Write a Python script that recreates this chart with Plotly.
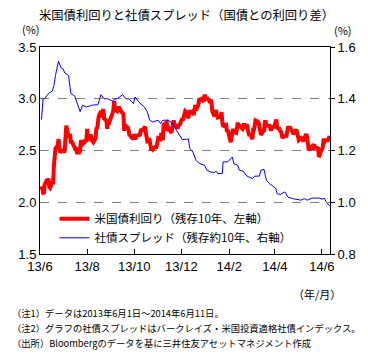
import plotly.graph_objects as go

# US 10y Treasury yield (%), left axis
ust_dates = [
"2013-06-03","2013-06-04","2013-06-05","2013-06-06","2013-06-07","2013-06-10","2013-06-11","2013-06-12","2013-06-13","2013-06-14",
"2013-06-17","2013-06-18","2013-06-19","2013-06-20","2013-06-21","2013-06-24","2013-06-25","2013-06-26","2013-06-27","2013-06-28",
"2013-07-01","2013-07-02","2013-07-03","2013-07-05","2013-07-08","2013-07-09","2013-07-10","2013-07-11","2013-07-12","2013-07-15",
"2013-07-16","2013-07-17","2013-07-18","2013-07-19","2013-07-22","2013-07-23","2013-07-24","2013-07-25","2013-07-26","2013-07-29",
"2013-07-30","2013-07-31","2013-08-01","2013-08-02","2013-08-05","2013-08-06","2013-08-07","2013-08-08","2013-08-09","2013-08-12",
"2013-08-13","2013-08-14","2013-08-15","2013-08-16","2013-08-19","2013-08-20","2013-08-21","2013-08-22","2013-08-23","2013-08-26",
"2013-08-27","2013-08-28","2013-08-29","2013-08-30","2013-09-03","2013-09-04","2013-09-05","2013-09-06","2013-09-09","2013-09-10",
"2013-09-11","2013-09-12","2013-09-13","2013-09-16","2013-09-17","2013-09-18","2013-09-19","2013-09-20","2013-09-23","2013-09-24",
"2013-09-25","2013-09-26","2013-09-27","2013-09-30","2013-10-01","2013-10-02","2013-10-03","2013-10-04","2013-10-07","2013-10-08",
"2013-10-09","2013-10-10","2013-10-11","2013-10-15","2013-10-16","2013-10-17","2013-10-18","2013-10-21","2013-10-22","2013-10-23",
"2013-10-24","2013-10-25","2013-10-28","2013-10-29","2013-10-30","2013-10-31","2013-11-01","2013-11-04","2013-11-05","2013-11-06",
"2013-11-07","2013-11-08","2013-11-12","2013-11-13","2013-11-14","2013-11-15","2013-11-18","2013-11-19","2013-11-20","2013-11-21",
"2013-11-22","2013-11-25","2013-11-26","2013-11-27","2013-11-29","2013-12-02","2013-12-03","2013-12-04","2013-12-05","2013-12-06",
"2013-12-09","2013-12-10","2013-12-11","2013-12-12","2013-12-13","2013-12-16","2013-12-17","2013-12-18","2013-12-19","2013-12-20",
"2013-12-23","2013-12-24","2013-12-26","2013-12-27","2013-12-30","2013-12-31","2014-01-02","2014-01-03","2014-01-06","2014-01-07",
"2014-01-08","2014-01-09","2014-01-10","2014-01-13","2014-01-14","2014-01-15","2014-01-16","2014-01-17","2014-01-21","2014-01-22",
"2014-01-23","2014-01-24","2014-01-27","2014-01-28","2014-01-29","2014-01-30","2014-01-31","2014-02-03","2014-02-04","2014-02-05",
"2014-02-06","2014-02-07","2014-02-10","2014-02-11","2014-02-12","2014-02-13","2014-02-14","2014-02-18","2014-02-19","2014-02-20",
"2014-02-21","2014-02-24","2014-02-25","2014-02-26","2014-02-27","2014-02-28","2014-03-03","2014-03-04","2014-03-05","2014-03-06",
"2014-03-07","2014-03-10","2014-03-11","2014-03-12","2014-03-13","2014-03-14","2014-03-17","2014-03-18","2014-03-19","2014-03-20",
"2014-03-21","2014-03-24","2014-03-25","2014-03-26","2014-03-27","2014-03-28","2014-03-31","2014-04-01","2014-04-02","2014-04-03",
"2014-04-04","2014-04-07","2014-04-08","2014-04-09","2014-04-10","2014-04-11","2014-04-14","2014-04-15","2014-04-16","2014-04-17",
"2014-04-18","2014-04-21","2014-04-22","2014-04-23","2014-04-24","2014-04-25","2014-04-28","2014-04-29","2014-04-30","2014-05-01",
"2014-05-02","2014-05-05","2014-05-06","2014-05-07","2014-05-08","2014-05-09","2014-05-12","2014-05-13","2014-05-14","2014-05-15",
"2014-05-16","2014-05-19","2014-05-20","2014-05-21","2014-05-22","2014-05-23","2014-05-27","2014-05-28","2014-05-29","2014-05-30",
"2014-06-02","2014-06-03","2014-06-04","2014-06-05","2014-06-06","2014-06-09","2014-06-10","2014-06-11",
]
ust_yield = [
2.12,2.15,2.09,2.08,2.17,2.22,2.19,2.23,2.15,2.14,
2.19,2.19,2.35,2.42,2.52,2.55,2.61,2.54,2.48,2.49,
2.50,2.48,2.50,2.74,2.64,2.63,2.66,2.57,2.59,2.54,
2.53,2.50,2.53,2.48,2.48,2.50,2.60,2.58,2.56,2.58,
2.61,2.58,2.71,2.60,2.64,2.64,2.60,2.58,2.58,2.62,
2.72,2.71,2.77,2.83,2.88,2.82,2.88,2.90,2.81,2.79,
2.71,2.78,2.75,2.78,2.86,2.89,2.98,2.90,2.88,2.91,
2.92,2.91,2.89,2.86,2.85,2.69,2.75,2.74,2.72,2.66,
2.64,2.65,2.63,2.61,2.66,2.62,2.62,2.64,2.65,2.64,
2.67,2.71,2.69,2.73,2.67,2.59,2.59,2.60,2.51,2.50,
2.52,2.51,2.54,2.52,2.54,2.57,2.62,2.61,2.67,2.64,
2.60,2.75,2.77,2.69,2.70,2.71,2.67,2.72,2.79,2.79,
2.75,2.74,2.71,2.74,2.75,2.81,2.79,2.84,2.88,2.88,
2.86,2.81,2.86,2.89,2.87,2.88,2.84,2.89,2.94,2.89,
2.94,2.99,3.00,3.00,2.97,3.04,2.99,3.01,2.98,2.96,
2.99,2.97,2.88,2.83,2.87,2.89,2.84,2.82,2.83,2.87,
2.78,2.73,2.75,2.75,2.68,2.70,2.67,2.58,2.63,2.68,
2.71,2.68,2.67,2.71,2.77,2.73,2.74,2.71,2.73,2.76,
2.73,2.75,2.70,2.67,2.64,2.66,2.61,2.70,2.70,2.74,
2.79,2.78,2.77,2.73,2.65,2.65,2.69,2.68,2.77,2.79,
2.74,2.74,2.75,2.70,2.69,2.72,2.73,2.75,2.80,2.80,
2.72,2.71,2.68,2.69,2.65,2.62,2.65,2.63,2.64,2.72,
2.72,2.72,2.71,2.69,2.68,2.66,2.69,2.70,2.67,2.63,
2.60,2.62,2.61,2.61,2.59,2.62,2.66,2.61,2.54,2.50,
2.52,2.54,2.51,2.55,2.56,2.53,2.52,2.44,2.45,2.48,
2.53,2.60,2.60,2.59,2.60,2.60,2.64,2.64,
]

# Corporate spread (%), right axis
sp_dates = [
"2013-06-03","2013-06-05","2013-06-07","2013-06-10","2013-06-12","2013-06-17","2013-06-19","2013-06-21","2013-06-25","2013-06-28",
"2013-07-01","2013-07-03","2013-07-08","2013-07-09","2013-07-11","2013-07-16","2013-07-19","2013-07-23","2013-07-26","2013-07-31",
"2013-08-07","2013-08-15","2013-08-19","2013-08-23","2013-08-28","2013-09-03","2013-09-05","2013-09-09","2013-09-16","2013-09-20",
"2013-09-24","2013-09-30","2013-10-02","2013-10-07","2013-10-14","2013-10-18","2013-10-21","2013-10-25","2013-11-01","2013-11-04",
"2013-11-07","2013-11-13","2013-11-18","2013-11-22","2013-11-26","2013-12-02","2013-12-06","2013-12-10","2013-12-12","2013-12-16",
"2013-12-20","2013-12-24","2013-12-31","2014-01-03","2014-01-08","2014-01-13","2014-01-15","2014-01-17","2014-01-23","2014-01-24",
"2014-01-30","2014-02-05","2014-02-07","2014-02-12","2014-02-14","2014-02-19","2014-02-24","2014-03-03","2014-03-06","2014-03-12",
"2014-03-14","2014-03-18","2014-03-21","2014-03-25","2014-03-31","2014-04-02","2014-04-04","2014-04-08","2014-04-14","2014-04-18",
"2014-04-24","2014-05-05","2014-05-09","2014-05-13","2014-05-19","2014-05-28","2014-06-02","2014-06-04","2014-06-06","2014-06-11",
]
sp_value = [
1.32,1.40,1.40,1.41,1.42,1.43,1.45,1.49,1.545,1.52,
1.515,1.50,1.49,1.465,1.42,1.41,1.38,1.35,1.375,1.368,
1.375,1.377,1.416,1.40,1.40,1.39,1.398,1.40,1.416,1.40,
1.40,1.381,1.407,1.387,1.368,1.349,1.317,1.31,1.317,1.304,
1.317,1.317,1.31,1.291,1.271,1.243,1.243,1.245,1.207,1.194,
1.162,1.15,1.143,1.124,1.117,1.115,1.12,1.111,1.111,1.156,
1.156,1.175,1.149,1.143,1.124,1.12,1.101,1.091,1.101,1.101,
1.124,1.127,1.085,1.072,1.059,1.055,1.033,1.03,1.04,1.02,
1.014,1.008,1.014,1.008,1.016,1.016,1.012,1.016,1.004,0.985,
]

tick_dates = ["2013-06-01","2013-08-01","2013-10-01","2013-12-01","2014-02-01","2014-04-01","2014-06-01"]
tick_text = ["13/6","13/8","13/10","13/12","14/2","14/4","14/6"]
left_ticks = [1.5, 2.0, 2.5, 3.0, 3.5]
right_ticks = [0.8, 1.0, 1.2, 1.4, 1.6]

JP = "Noto Sans CJK JP"
NUM = "Liberation Sans, Arial"

fig = go.Figure()
fig.add_trace(go.Scatter(x=ust_dates, y=ust_yield, mode="lines", name="米国債利回り（残存10年、左軸）",
                         line=dict(color="#FF0000", width=4), yaxis="y"))
fig.add_trace(go.Scatter(x=sp_dates, y=sp_value, mode="lines", name="社債スプレッド（残存約10年、右軸）",
                         line=dict(color="#0000FF", width=1), yaxis="y2"))

fig.update_layout(
    width=368, height=354,
    margin=dict(l=40, r=31, t=47, b=100),
    paper_bgcolor="white", plot_bgcolor="white",
    showlegend=True,
    legend=dict(x=0.05, y=0.24, xanchor="left", yanchor="top", bgcolor="rgba(0,0,0,0)",
                font=dict(family=JP, size=11.5, color="black"), tracegroupgap=0, itemwidth=30),
    xaxis=dict(type="date", range=["2013-06-01", "2014-06-11 10:00"],
               tickvals=tick_dates, ticktext=tick_text,
               ticks="inside", ticklen=5, tickcolor="black",
               showline=True, linecolor="black", linewidth=1, mirror=True,
               showgrid=False, zeroline=False,
               tickfont=dict(family=NUM, size=13, color="black")),
    yaxis=dict(range=[1.5, 3.5], tickvals=left_ticks, ticktext=["1.5","2.0","2.5","3.0","3.5"],
               showline=True, linecolor="black", linewidth=1, mirror=True,
               showgrid=True, gridcolor="#808080", griddash="dash", gridwidth=1,
               zeroline=False, ticks="", tickfont=dict(family=NUM, size=13, color="black")),
    yaxis2=dict(range=[0.8, 1.6], tickvals=right_ticks, ticktext=["0.8","1.0","1.2","1.4","1.6"],
                overlaying="y", side="right", showgrid=False, zeroline=False,
                ticks="outside", ticklen=4, tickcolor="black",
                tickfont=dict(family=NUM, size=13, color="black")),
)

def ann(text, x, y, size, xanchor="center"):
    fig.add_annotation(text=text, x=x, y=y, xref="paper", yref="paper", showarrow=False,
                       xanchor=xanchor, yanchor="middle", font=dict(family=JP, size=size, color="black"))

ann("米国債利回りと社債スプレッド（国債との利回り差）", 0.505, 1.155, 12.3)
ann("(%)", -0.03, 1.088, 11)
ann("(%)", 1.045, 1.080, 11)
ann("（年/月）", 0.955, -0.195, 11)
ann("（注1）データは2013年6月1日～2014年6月11日。", -0.105, -0.285, 9.3, "left")
ann("（注2）グラフの社債スプレッドはバークレイズ・米国投資適格社債インデックス。", -0.105, -0.357, 9.3, "left")
ann("（出所）Bloombergのデータを基に三井住友アセットマネジメント作成", -0.105, -0.430, 9.3, "left")

fig.write_html("out.html")
